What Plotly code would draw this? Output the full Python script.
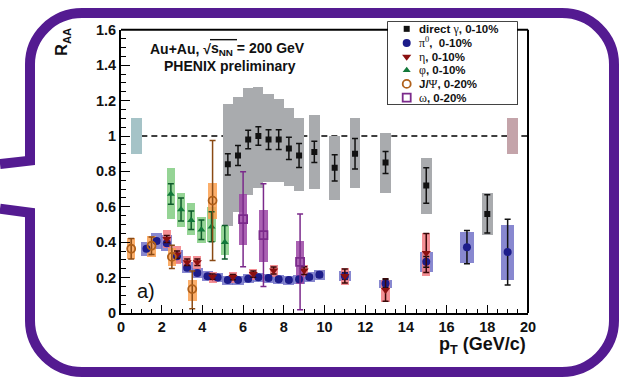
import plotly.graph_objects as go

# ---------------- data ----------------
# direct photon, 0-10%
gam_x = [5.25, 5.75, 6.25, 6.75, 7.25, 7.75, 8.25, 8.75, 9.5, 10.5, 11.5, 13, 15, 18]
gam_y = [0.84, 0.89, 0.98, 1.00, 0.98, 0.98, 0.93, 0.89, 0.91, 0.82, 0.90, 0.85, 0.72, 0.56]
gam_err = [0.06, 0.056, 0.052, 0.052, 0.056, 0.056, 0.063, 0.068, 0.06, 0.074, 0.086, 0.062, 0.10, 0.108]
gam_sys_lo = [0.49, 0.57, 0.67, 0.71, 0.74, 0.74, 0.72, 0.69, 0.70, 0.64, 0.71, 0.68, 0.56, 0.44]
gam_sys_hi = [1.18, 1.22, 1.27, 1.28, 1.24, 1.21, 1.16, 1.10, 1.12, 1.00, 1.10, 1.02, 0.876, 0.68]
gam_box_w = [0.5, 0.5, 0.5, 0.5, 0.5, 0.5, 0.5, 0.5, 0.52, 0.52, 0.52, 0.52, 0.52, 0.52]

# pi0, 0-10%
pi_x = [1.25, 1.75, 2.25, 2.75, 3.25, 3.75, 4.25, 4.75, 5.25, 5.75, 6.25, 6.75, 7.25, 7.75,
        8.25, 8.75, 9.25, 9.75, 11, 13, 15, 17, 19]
pi_y = [0.363, 0.407, 0.394, 0.32, 0.256, 0.226, 0.208, 0.201, 0.187, 0.187, 0.194, 0.202, 0.198, 0.19,
        0.187, 0.19, 0.203, 0.216, 0.209, 0.167, 0.289, 0.372, 0.344]
pi_err = [0.01, 0.01, 0.01, 0.01, 0.01, 0.01, 0.01, 0.01, 0.01, 0.01, 0.01, 0.01, 0.01, 0.01,
          0.01, 0.01, 0.012, 0.014, 0.018, 0.022, 0.03, 0.094, 0.186]
pi_sys_lo = [0.325, 0.36, 0.35, 0.285, 0.225, 0.197, 0.18, 0.174, 0.162, 0.162, 0.168, 0.176, 0.172, 0.165,
             0.162, 0.165, 0.176, 0.19, 0.18, 0.14, 0.233, 0.281, 0.189]
pi_sys_hi = [0.40, 0.455, 0.44, 0.357, 0.288, 0.255, 0.236, 0.228, 0.212, 0.212, 0.22, 0.228, 0.224, 0.215,
             0.212, 0.215, 0.23, 0.243, 0.237, 0.19, 0.344, 0.459, 0.496]
pi_box_w = [0.55, 0.55, 0.55, 0.55, 0.55, 0.55, 0.55, 0.55, 0.55, 0.55, 0.55, 0.55, 0.55, 0.55,
            0.55, 0.55, 0.55, 0.55, 0.6, 0.6, 0.62, 0.65, 0.64]

# eta, 0-10%
eta_x = [2.25, 2.75, 3.25, 3.75, 4.5, 5.5, 6.5, 7.5, 9.0, 11, 13, 15]
eta_y = [0.418, 0.33, 0.287, 0.287, 0.205, 0.203, 0.22, 0.24, 0.24, 0.209, 0.13, 0.339]
eta_err = [0.02, 0.02, 0.018, 0.018, 0.015, 0.015, 0.018, 0.02, 0.022, 0.04, 0.063, 0.11]
eta_sys_lo = [0.37, 0.28, 0.25, 0.25, 0.168, 0.172, 0.188, 0.205, 0.205, 0.159, 0.061, 0.209]
eta_sys_hi = [0.47, 0.38, 0.325, 0.325, 0.235, 0.235, 0.252, 0.272, 0.275, 0.256, 0.19, 0.455]

# phi, 0-10%
phi_x = [2.45, 2.95, 3.45, 3.95, 4.45, 5.1]
phi_y = [0.672, 0.585, 0.524, 0.47, 0.487, 0.40]
phi_err = [0.058, 0.065, 0.052, 0.055, 0.085, 0.095]
phi_sys_lo = [0.533, 0.487, 0.44, 0.394, 0.40, 0.326]
phi_sys_hi = [0.82, 0.68, 0.62, 0.543, 0.60, 0.49]

# J/psi, 0-20%
jp_x = [0.5, 1.5, 2.5, 3.5, 4.5]
jp_y = [0.363, 0.38, 0.317, 0.135, 0.635]
jp_err_up = [0.058, 0.05, 0.066, 0.102, 0.339]
jp_err_dn = [0.058, 0.05, 0.066, 0.111, 0.339]
jp_sys_lo = [0.306, 0.32, 0.265, 0.07, 0.53]
jp_sys_hi = [0.422, 0.435, 0.37, 0.19, 0.733]

# omega, 0-20%
om_x = [6.0, 7.0, 8.8]
om_y = [0.53, 0.44, 0.289]
om_err = [0.268, 0.29, 0.27]
om_sys_lo = [0.385, 0.289, 0.167]
om_sys_hi = [0.672, 0.585, 0.409]

# global normalisation boxes
glob_x = [0.75, 19.25]
glob_lo = [0.9, 0.9]
glob_hi = [1.1, 1.1]

x_ticks = [0, 2, 4, 6, 8, 10, 12, 14, 16, 18, 20]
y_ticks = [0, 0.2, 0.4, 0.6, 0.8, 1.0, 1.2, 1.4, 1.6]
y_tick_text = ["0", "0.2", "0.4", "0.6", "0.8", "1", "1.2", "1.4", "1.6"]

GS = "font-family:Liberation Serif;font-weight:normal;font-size:12px"
legend_labels = [
    f"direct <span style='{GS}'>γ</span>, 0-10%",
    f"<span style='{GS}'>π<sup>0</sup></span>,  0-10%",
    f"<span style='{GS}'>η</span>, 0-10%",
    f"<span style='{GS}'>φ</span>, 0-10%",
    f"J/<span style='{GS}'>Ψ</span>, 0-20%",
    f"<span style='{GS}'>ω</span>, 0-20%",
]

# ---------------- styling / geometry ----------------
W, H = 623, 378
ML, MR, MT, MB = 121, 95, 15, 65
PW = W - ML - MR
PH = H - MT - MB
AX_TOP_PX = 25
PURPLE = "#541b91"
FONT = "Liberation Sans"


def fx(p):
    return (p - ML) / PW


def fy(p):
    return (H - MB - p) / PH


c_gam_box = "#a9abae"
c_pi = "#1c1c8a"
c_pi_box = "rgba(115,115,200,0.85)"
c_eta = "#8b1010"
c_eta_box = "rgba(242,125,130,0.85)"
c_phi = "#12783a"
c_phi_box = "rgba(130,205,130,0.85)"
c_jp = "#b0601a"
c_jp_box = "rgba(250,160,80,0.85)"
c_om = "#7b2a8b"
c_om_box = "rgba(155,70,165,0.85)"

fig = go.Figure()


def add_boxes(x, lo, hi, width, color):
    fig.add_trace(go.Bar(
        x=x, y=[h - l for h, l in zip(hi, lo)], base=lo, width=width,
        marker=dict(color=color, line=dict(width=0)),
        showlegend=False, hoverinfo="skip"))


add_boxes(gam_x, gam_sys_lo, gam_sys_hi, gam_box_w, c_gam_box)
add_boxes(glob_x[:1], glob_lo[:1], glob_hi[:1], 0.52, "#a5c3c7")
add_boxes(glob_x[1:], glob_lo[1:], glob_hi[1:], 0.52, "#c4a4aa")
add_boxes(pi_x, pi_sys_lo, pi_sys_hi, pi_box_w, c_pi_box)
add_boxes(eta_x, eta_sys_lo, eta_sys_hi, 0.4, c_eta_box)
add_boxes(phi_x, phi_sys_lo, phi_sys_hi, 0.42, c_phi_box)
add_boxes(jp_x, jp_sys_lo, jp_sys_hi, 0.42, c_jp_box)
add_boxes(om_x, om_sys_lo, om_sys_hi, 0.4, c_om_box)


def add_points(x, y, symbol, color, size, err_color, arr=None, arrm=None, open_lw=None):
    marker = dict(symbol=symbol, color=color, size=size)
    if open_lw:
        marker["line"] = dict(width=open_lw, color=color)
    else:
        marker["line"] = dict(width=0)
    ey = dict(type="data", array=arr, color=err_color, thickness=1.5, width=3)
    if arrm is not None:
        ey["arrayminus"] = arrm
        ey["symmetric"] = False
    fig.add_trace(go.Scatter(x=x, y=y, mode="markers", marker=marker, error_y=ey,
                             showlegend=False, hoverinfo="skip"))


add_points(gam_x, gam_y, "square", "#111111", 6, "#111111", gam_err)
add_points(pi_x, pi_y, "circle", c_pi, 8, "#111111", pi_err)
add_points(eta_x, eta_y, "triangle-down", c_eta, 8, "#3a0808", eta_err)
add_points(phi_x, phi_y, "triangle-up", c_phi, 7, "#0d5a2a", phi_err)
add_points(jp_x, jp_y, "circle-open", c_jp, 8, "#8a4a14", jp_err_up, jp_err_dn, open_lw=1.8)
add_points(om_x, om_y, "square-open", c_om, 8, c_om, om_err, open_lw=1.8)

# ---- legend (manual, on a helper axis) ----
leg_x0, leg_x1, leg_y0, leg_y1 = 388, 517, 17, 100.7
leg_rows_px = [24, 38.3, 52.3, 66, 80, 94]
leg_marker_px = 406.7
leg_syms = [("square", "#111111", 6, None), ("circle", c_pi, 8, None),
            ("triangle-down", c_eta, 8, None), ("triangle-up", c_phi, 7, None),
            ("circle-open", c_jp, 8, 1.8), ("square-open", c_om, 8, 1.8)]
for (sym, col, sz, lw), rp in zip(leg_syms, leg_rows_px):
    mk = dict(symbol=sym, color=col, size=sz, line=dict(width=lw or 0, color=col))
    fig.add_trace(go.Scatter(
        x=[(leg_marker_px - leg_x0) / (leg_x1 - leg_x0)],
        y=[(leg_y1 - rp) / (leg_y1 - leg_y0)],
        mode="markers", marker=mk, xaxis="x2", yaxis="y2",
        showlegend=False, hoverinfo="skip", cliponaxis=False))

shapes = []
shapes.append(dict(type="line", xref="paper", yref="paper", x0=0, x1=1, y0=fy(AX_TOP_PX), y1=fy(AX_TOP_PX),
                   line=dict(color="black", width=2), layer="below"))
shapes.append(dict(type="line", xref="paper", yref="paper", x0=1, x1=1, y0=0, y1=fy(AX_TOP_PX),
                   line=dict(color="black", width=2), layer="below"))
shapes.append(dict(type="rect", xref="paper", yref="paper", x0=fx(leg_x0), x1=fx(leg_x1),
                   y0=fy(leg_y1), y1=fy(leg_y0), fillcolor="white",
                   line=dict(color="black", width=1.5), layer="below"))
shapes.append(dict(type="line", xref="x", yref="y", x0=1.0, x1=20, y0=1, y1=1,
                   line=dict(color="black", width=1.3, dash="6px,4px"), layer="below"))

# speech-bubble frame
xl, xr, yt, yb, r = 30, 614, 8, 373, 52
k = 0.4477 * r


def P(x, y):
    return f"{fx(x):.5f},{fy(y):.5f}"


path = (f"M {P(0, 161.5)} L {P(30, 158)} L {P(xl, yt + r)} "
        f"C {P(xl, yt + k)} {P(xl + k, yt)} {P(xl + r, yt)} "
        f"L {P(xr - r, yt)} C {P(xr - k, yt)} {P(xr, yt + k)} {P(xr, yt + r)} "
        f"L {P(xr, yb - r)} C {P(xr, yb - k)} {P(xr - k, yb)} {P(xr - r, yb)} "
        f"L {P(xl + r, yb)} C {P(xl + k, yb)} {P(xl, yb - k)} {P(xl, yb - r)} "
        f"L {P(30, 211)} L {P(0, 207)}")
shapes.append(dict(type="path", xref="paper", yref="paper", path=path,
                   line=dict(color=PURPLE, width=10), layer="above"))

# square-root sign overline above s_NN
SQRT_SPLIT = 211
shapes.append(dict(type="line", xref="paper", yref="paper", x0=fx(SQRT_SPLIT - 1), x1=fx(SQRT_SPLIT + 26),
                   y0=fy(35), y1=fy(35), line=dict(color="#111", width=1.4), layer="above"))

annotations = []
for lab, rp in zip(legend_labels, leg_rows_px):
    annotations.append(dict(xref="paper", yref="paper", x=fx(418), y=fy(rp), xanchor="left", yanchor="middle",
                            text=lab, showarrow=False, borderpad=0,
                            font=dict(family=FONT, size=11.5, color="#111", weight="bold")))

hdr_font = dict(family=FONT, size=14, color="#111", weight="bold")
annotations.append(dict(xref="paper", yref="paper", x=fx(SQRT_SPLIT + 1), y=fy(44), xanchor="right", yanchor="middle",
                        text="Au+Au, √", showarrow=False, font=hdr_font, borderpad=0))
annotations.append(dict(xref="paper", yref="paper", x=fx(SQRT_SPLIT - 1), y=fy(44), xanchor="left", yanchor="middle",
                        text="s<sub>NN</sub> = 200 GeV", showarrow=False, font=hdr_font, borderpad=0))
annotations.append(dict(xref="paper", yref="paper", x=fx(230), y=fy(62), xanchor="center", yanchor="middle",
                        text="PHENIX preliminary", showarrow=False, font=hdr_font))
annotations.append(dict(xref="paper", yref="paper", x=fx(146), y=fy(291), xanchor="center", yanchor="middle",
                        text="a)", showarrow=False, font=dict(family=FONT, size=20, color="#111")))
annotations.append(dict(xref="paper", yref="paper", x=fx(63), y=fy(37), xanchor="center", yanchor="middle",
                        text="R<sub>AA</sub>", textangle=-90, showarrow=False,
                        font=dict(family=FONT, size=16, color="#111", weight="bold")))
annotations.append(dict(xref="paper", yref="paper", x=fx(528), y=fy(346), xanchor="right", yanchor="middle",
                        text="p<sub>T</sub> (GeV/c)", showarrow=False,
                        font=dict(family=FONT, size=18, color="#111", weight="bold")))

tickfont = dict(family=FONT, size=14.5, color="#111", weight="bold")

fig.update_layout(
    width=W, height=H,
    margin=dict(l=ML, r=MR, t=MT, b=MB, pad=0),
    paper_bgcolor="white", plot_bgcolor="white",
    barmode="overlay", bargap=0,
    showlegend=False,
    xaxis=dict(range=[0, 20], domain=[0, 1], showgrid=False, zeroline=False,
               showline=True, linecolor="black", linewidth=2, mirror=False,
               ticks="inside", ticklen=8, tickwidth=1.3, tickcolor="black",
               tickvals=x_ticks, tickfont=tickfont,
               minor=dict(dtick=0.5, ticks="inside", ticklen=4, tickwidth=1.1, tickcolor="black")),
    yaxis=dict(range=[0, 1.6], domain=[0, fy(AX_TOP_PX)], showgrid=False, zeroline=False,
               showline=True, linecolor="black", linewidth=2, mirror=False,
               ticks="inside", ticklen=9, tickwidth=1.3, tickcolor="black",
               tickvals=y_ticks, ticktext=y_tick_text, tickfont=tickfont,
               minor=dict(dtick=0.05, ticks="inside", ticklen=5, tickwidth=1.1, tickcolor="black")),
    xaxis2=dict(domain=[fx(leg_x0), fx(leg_x1)], range=[0, 1], visible=False, anchor="y2"),
    yaxis2=dict(domain=[fy(leg_y1), fy(leg_y0)], range=[0, 1], visible=False, anchor="x2"),
    shapes=shapes,
    annotations=annotations,
)

fig.write_html("out.html", config={"displayModeBar": False},
               post_script="document.body.style.margin='0px';")
